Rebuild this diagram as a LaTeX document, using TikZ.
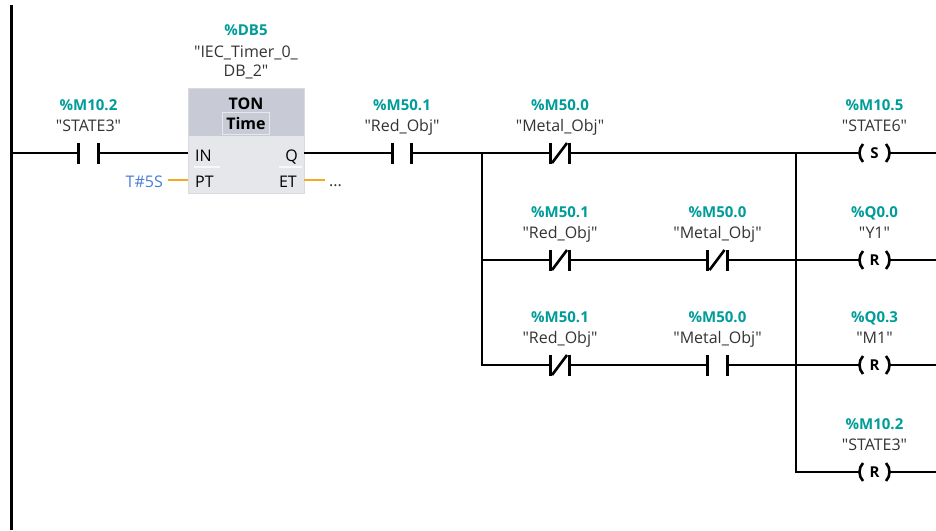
\documentclass[tikz,border=0pt]{standalone}
\usepackage{fontspec}
\setmainfont{Open Sans}[Ligatures=TeXOff]

\definecolor{addrcol}{HTML}{009C99}
\definecolor{tagcol}{HTML}{333333}
\definecolor{constcol}{HTML}{4A7BD4}
\definecolor{pincol}{HTML}{F7A823}
\definecolor{boxtop}{HTML}{C8CBD5}
\definecolor{boxbot}{HTML}{E6E7EB}
\definecolor{boxedge}{HTML}{D9DBE0}

\tikzset{
  wire/.style={line width=2.4pt},
  pinwire/.style={line width=2.4pt, pincol},
  bar/.style={line width=2.6pt},
  addrtext/.style={font=\fontsize{15}{17}\selectfont\bfseries, text=addrcol, inner sep=0, anchor=base},
  tagtext/.style={font=\fontsize{16}{18}\selectfont, text=tagcol, inner sep=0, anchor=base},
  pintext/.style={font=\fontsize{16}{18}\selectfont, inner sep=0},
  coilop/.style={font=\fontsize{15}{17}\selectfont\bfseries, inner sep=0, anchor=base},
  % normally open contact
  pics/nocontact/.style 2 args={code={
    \draw[bar] (-9.75,-10.5) -- (-9.75,10.5) (9.75,-10.5) -- (9.75,10.5);
    \coordinate (-w) at (-9.75,0);
    \coordinate (-e) at (9.75,0);
    \node[addrtext] (-addr) at (0,-43) {#1};
    \node[tagtext] (-tag) at (0,-22) {"#2"};
  }},
  % normally closed contact
  pics/nccontact/.style 2 args={code={
    \draw[bar] (-9.75,-10.5) -- (-9.75,10.5) (9.75,-10.5) -- (9.75,10.5);
    \draw[bar] (-8,10) -- (7,-10);
    \coordinate (-w) at (-9.75,0);
    \coordinate (-e) at (9.75,0);
    \node[addrtext] (-addr) at (0,-43) {#1};
    \node[tagtext] (-tag) at (0,-22) {"#2"};
  }},
  % coil outline and labels
  pics/coil/.style 2 args={code={
    \draw[bar] (-11.5,-9) .. controls (-16.2,-4) and (-16.2,4) .. (-11.5,9);
    \draw[bar] (11.5,-9) .. controls (16.2,-4) and (16.2,4) .. (11.5,9);
    \coordinate (-w) at (-15,0);
    \coordinate (-e) at (15,0);
    \node[addrtext] (-addr) at (0,-43) {#1};
    \node[tagtext] (-tag) at (0,-22) {"#2"};
  }},
}

\begin{document}
\begin{tikzpicture}[x=1pt,y=-1pt]
\useasboundingbox (0,0) rectangle (936,530);

% power rail
\coordinate (railtop) at (11.5,5);
\coordinate (railbot) at (11.5,530);
\draw[wire, line width=2.8pt] (railtop) -- (railbot);

% timer block
\node[draw=boxedge, fill=boxbot, line width=0.8pt, minimum width=116, minimum height=105,
      inner sep=0, anchor=north west] (ton) at (188,88) {};
\fill[boxtop] (188.5,88.5) rectangle (303.5,136);
\node[addrtext] (tondb) at (246,35) {\%DB5};
\node[tagtext] (toninst) at (246,57) {"IEC\_Timer\_0\_};
\node[tagtext] (toninst2) at (246,76) {DB\_2"};
\node[font=\fontsize{16}{18}\selectfont\bfseries, inner sep=0, anchor=base] (tonname) at (246,109) {TON};
\node[draw=white!55!boxtop, line width=1pt, minimum width=47, minimum height=22, inner sep=0,
      font=\fontsize{16}{18}\selectfont\bfseries] (tontype) at (246,123) {Time};
\node[pintext, anchor=base west] (pinin) at (195,161) {IN};
\node[pintext, anchor=base east] (pinq) at (298,161) {Q};
\node[pintext, anchor=base west] (pinpt) at (195,187) {PT};
\node[pintext, anchor=base east] (pinet) at (297,187) {ET};
\draw[white!70!boxbot, line width=2pt] (194,166.5) -- (220,166.5) (279,166.5) -- (302,166.5);
\coordinate (ton-in) at (188,153);
\coordinate (ton-q) at (304,153);
\coordinate (ton-pt) at (188,180);
\coordinate (ton-et) at (304,180);

\node[font=\fontsize{16}{18}\selectfont, text=constcol, inner sep=0, anchor=base east] (t5s) at (163,187) {T\#5S};
\coordinate (ptend) at (168,180);
\coordinate (etend) at (325,180);
\node[tagtext, anchor=base west] (etdots) at (329,186) {...};
\draw[pinwire] (ptend) -- (ton-pt);
\draw[pinwire] (ton-et) -- (etend);

% contacts
\pic (k1) at (88.5,153) {nocontact={\%M10.2}{STATE3}};
\pic (k2) at (402,153) {nocontact={\%M50.1}{Red\_Obj}};
\pic (k3) at (560,153) {nccontact={\%M50.0}{Metal\_Obj}};
\pic (k4) at (560,260) {nccontact={\%M50.1}{Red\_Obj}};
\pic (k5) at (717.5,260) {nccontact={\%M50.0}{Metal\_Obj}};
\pic (k6) at (560,365) {nccontact={\%M50.1}{Red\_Obj}};
\pic (k7) at (717.5,365) {nocontact={\%M50.0}{Metal\_Obj}};

% coils
\pic (c1) at (874.5,153) {coil={\%M10.5}{STATE6}};
\pic (c2) at (874.5,260) {coil={\%Q0.0}{Y1}};
\pic (c3) at (874.5,365) {coil={\%Q0.3}{M1}};
\pic (c4) at (874.5,472) {coil={\%M10.2}{STATE3}};
\node[coilop] (c1op) at (874.5,158.5) {S};
\node[coilop] (c2op) at (874.5,265.5) {R};
\node[coilop] (c3op) at (874.5,370.5) {R};
\node[coilop] (c4op) at (874.5,477.5) {R};

% branch points
\coordinate (r1) at (11.5,153);
\coordinate (bl1) at (482,153);
\coordinate (bl2) at (482,260);
\coordinate (bl3) at (482,365);
\coordinate (br1) at (796,153);
\coordinate (br2) at (796,260);
\coordinate (br3) at (796,365);
\coordinate (br4) at (796,472);
\coordinate (e1) at (936,153);
\coordinate (e2) at (936,260);
\coordinate (e3) at (936,365);
\coordinate (e4) at (936,472);

% wires
\draw[wire] (r1) -- (k1-w);
\draw[wire] (k1-e) -- (ton-in);
\draw[wire] (ton-q) -- (k2-w);
\draw[wire] (k2-e) -- (k3-w);
\draw[wire] (bl1) -- (bl3) -- (k6-w);
\draw[wire] (bl2) -- (k4-w);
\draw[wire] (k4-e) -- (k5-w);
\draw[wire] (k6-e) -- (k7-w);
\draw[wire] (k3-e) -- (c1-w);
\draw[wire] (k5-e) -- (c2-w);
\draw[wire] (k7-e) -- (c3-w);
\draw[wire] (br1) -- (br4) -- (c4-w);
\draw[wire] (c1-e) -- (e1);
\draw[wire] (c2-e) -- (e2);
\draw[wire] (c3-e) -- (e3);
\draw[wire] (c4-e) -- (e4);

\end{tikzpicture}
\end{document}
